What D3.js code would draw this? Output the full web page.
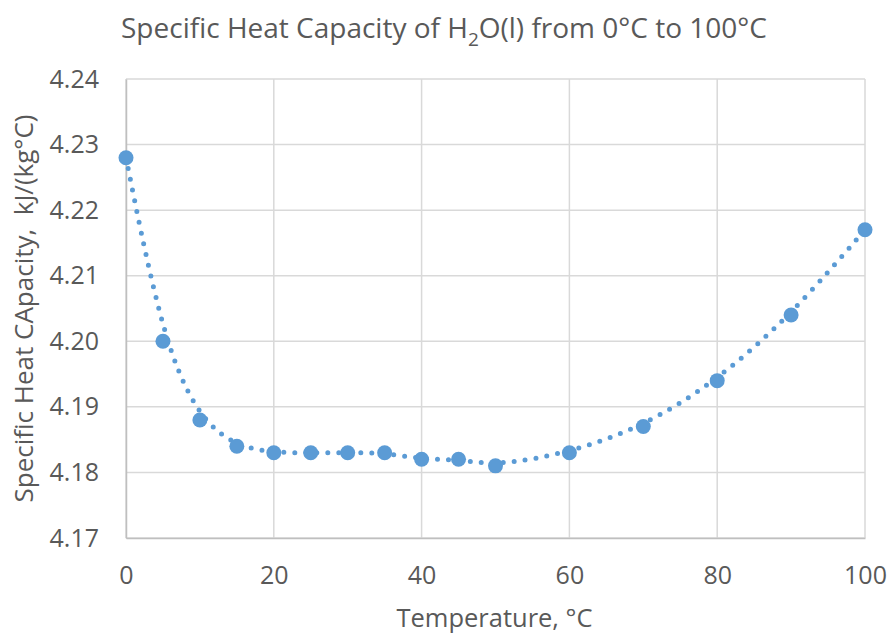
<!DOCTYPE html>
<html>
<head>
<meta charset="utf-8">
<script src="https://cdn.jsdelivr.net/npm/d3@7"></script>
<style>
  body { margin: 0; background: #fff; }
  text { font-family: "Open Sans", "Liberation Sans", sans-serif; fill: #595959; }
</style>
</head>
<body>
<div id="chart"></div>
<script>
// water cp vs temperature
var temps = [0, 5, 10, 15, 20, 25, 30, 35, 40, 45, 50, 60, 70, 80, 90, 100];
var cps = [4.228, 4.200, 4.188, 4.184, 4.183, 4.183, 4.183, 4.183, 4.182, 4.182, 4.181, 4.183, 4.187, 4.194, 4.204, 4.217];
var xTicks = [0, 20, 40, 60, 80, 100];
var yTicks = [4.17, 4.18, 4.19, 4.20, 4.21, 4.22, 4.23, 4.24];

var width = 891, height = 634;
var margin = { top: 79, right: 26, bottom: 96, left: 126 };
var blue = "#5B9BD5";

var data = temps.map(function(t, i) { return { t: t, cp: cps[i] }; });

var svg = d3.select("#chart").append("svg")
  .attr("width", width)
  .attr("height", height);

var x = d3.scaleLinear().domain([0, 100]).range([margin.left, width - margin.right]);
var y = d3.scaleLinear().domain([4.17, 4.24]).range([height - margin.bottom, margin.top]);

// gridlines
svg.append("g")
  .selectAll("line.h")
  .data(yTicks)
  .enter().append("line")
  .attr("x1", x(0)).attr("x2", x(100))
  .attr("y1", function(d) { return y(d); })
  .attr("y2", function(d) { return y(d); })
  .attr("stroke", "#D9D9D9").attr("stroke-width", 1.5);

svg.append("g")
  .selectAll("line.v")
  .data(xTicks)
  .enter().append("line")
  .attr("x1", function(d) { return x(d); })
  .attr("x2", function(d) { return x(d); })
  .attr("y1", y(4.17)).attr("y2", y(4.24))
  .attr("stroke", "#D9D9D9").attr("stroke-width", 1.5);

// axes
var xAxis = svg.append("g")
  .attr("transform", "translate(0," + y(4.17) + ")")
  .call(d3.axisBottom(x).tickValues(xTicks).tickSize(0).tickPadding(28).tickFormat(d3.format("d")));
var yAxis = svg.append("g")
  .attr("transform", "translate(" + x(0) + ",0)")
  .call(d3.axisLeft(y).tickValues(yTicks).tickSize(0).tickPadding(27).tickFormat(d3.format(".2f")));

[xAxis, yAxis].forEach(function(g) {
  g.select(".domain").attr("stroke", "#BFBFBF").attr("stroke-width", 1.5);
  g.selectAll("text").style("font-size", "25px").style("fill", "#595959")
    .style("font-family", "'Open Sans', sans-serif");
});

// trendline, dotted
var line = d3.line()
  .x(function(d) { return x(d.t); })
  .y(function(d) { return y(d.cp); })
  .curve(d3.curveBasis);

svg.append("path")
  .datum(data)
  .attr("d", line)
  .attr("fill", "none")
  .attr("stroke", blue)
  .attr("stroke-width", 5)
  .attr("stroke-linecap", "round")
  .attr("stroke-dasharray", "0 11");

// markers
svg.append("g")
  .selectAll("circle")
  .data(data)
  .enter().append("circle")
  .attr("cx", function(d) { return x(d.t); })
  .attr("cy", function(d) { return y(d.cp); })
  .attr("r", 7.5)
  .attr("fill", blue);

// title
var title = svg.append("text")
  .attr("x", 444).attr("y", 38)
  .attr("text-anchor", "middle")
  .style("font-size", "28px");
title.append("tspan").text("Specific Heat Capacity of H");
title.append("tspan").text("2").attr("dy", 8).style("font-size", "19px");
title.append("tspan").text("O(l) from 0°C to 100°C").attr("dy", -8);

// axis titles
svg.append("text")
  .attr("x", x(50) - 1).attr("y", 627)
  .attr("text-anchor", "middle")
  .style("font-size", "25.5px")
  .text("Temperature, °C");

svg.append("text")
  .attr("transform", "translate(33," + ((y(4.17) + y(4.24)) / 2) + ") rotate(-90)")
  .attr("text-anchor", "middle")
  .style("font-size", "26px")
  .style("white-space", "pre")
  .text("Specific Heat CApacity,  kJ/(kg°C)");
</script>
</body>
</html>
